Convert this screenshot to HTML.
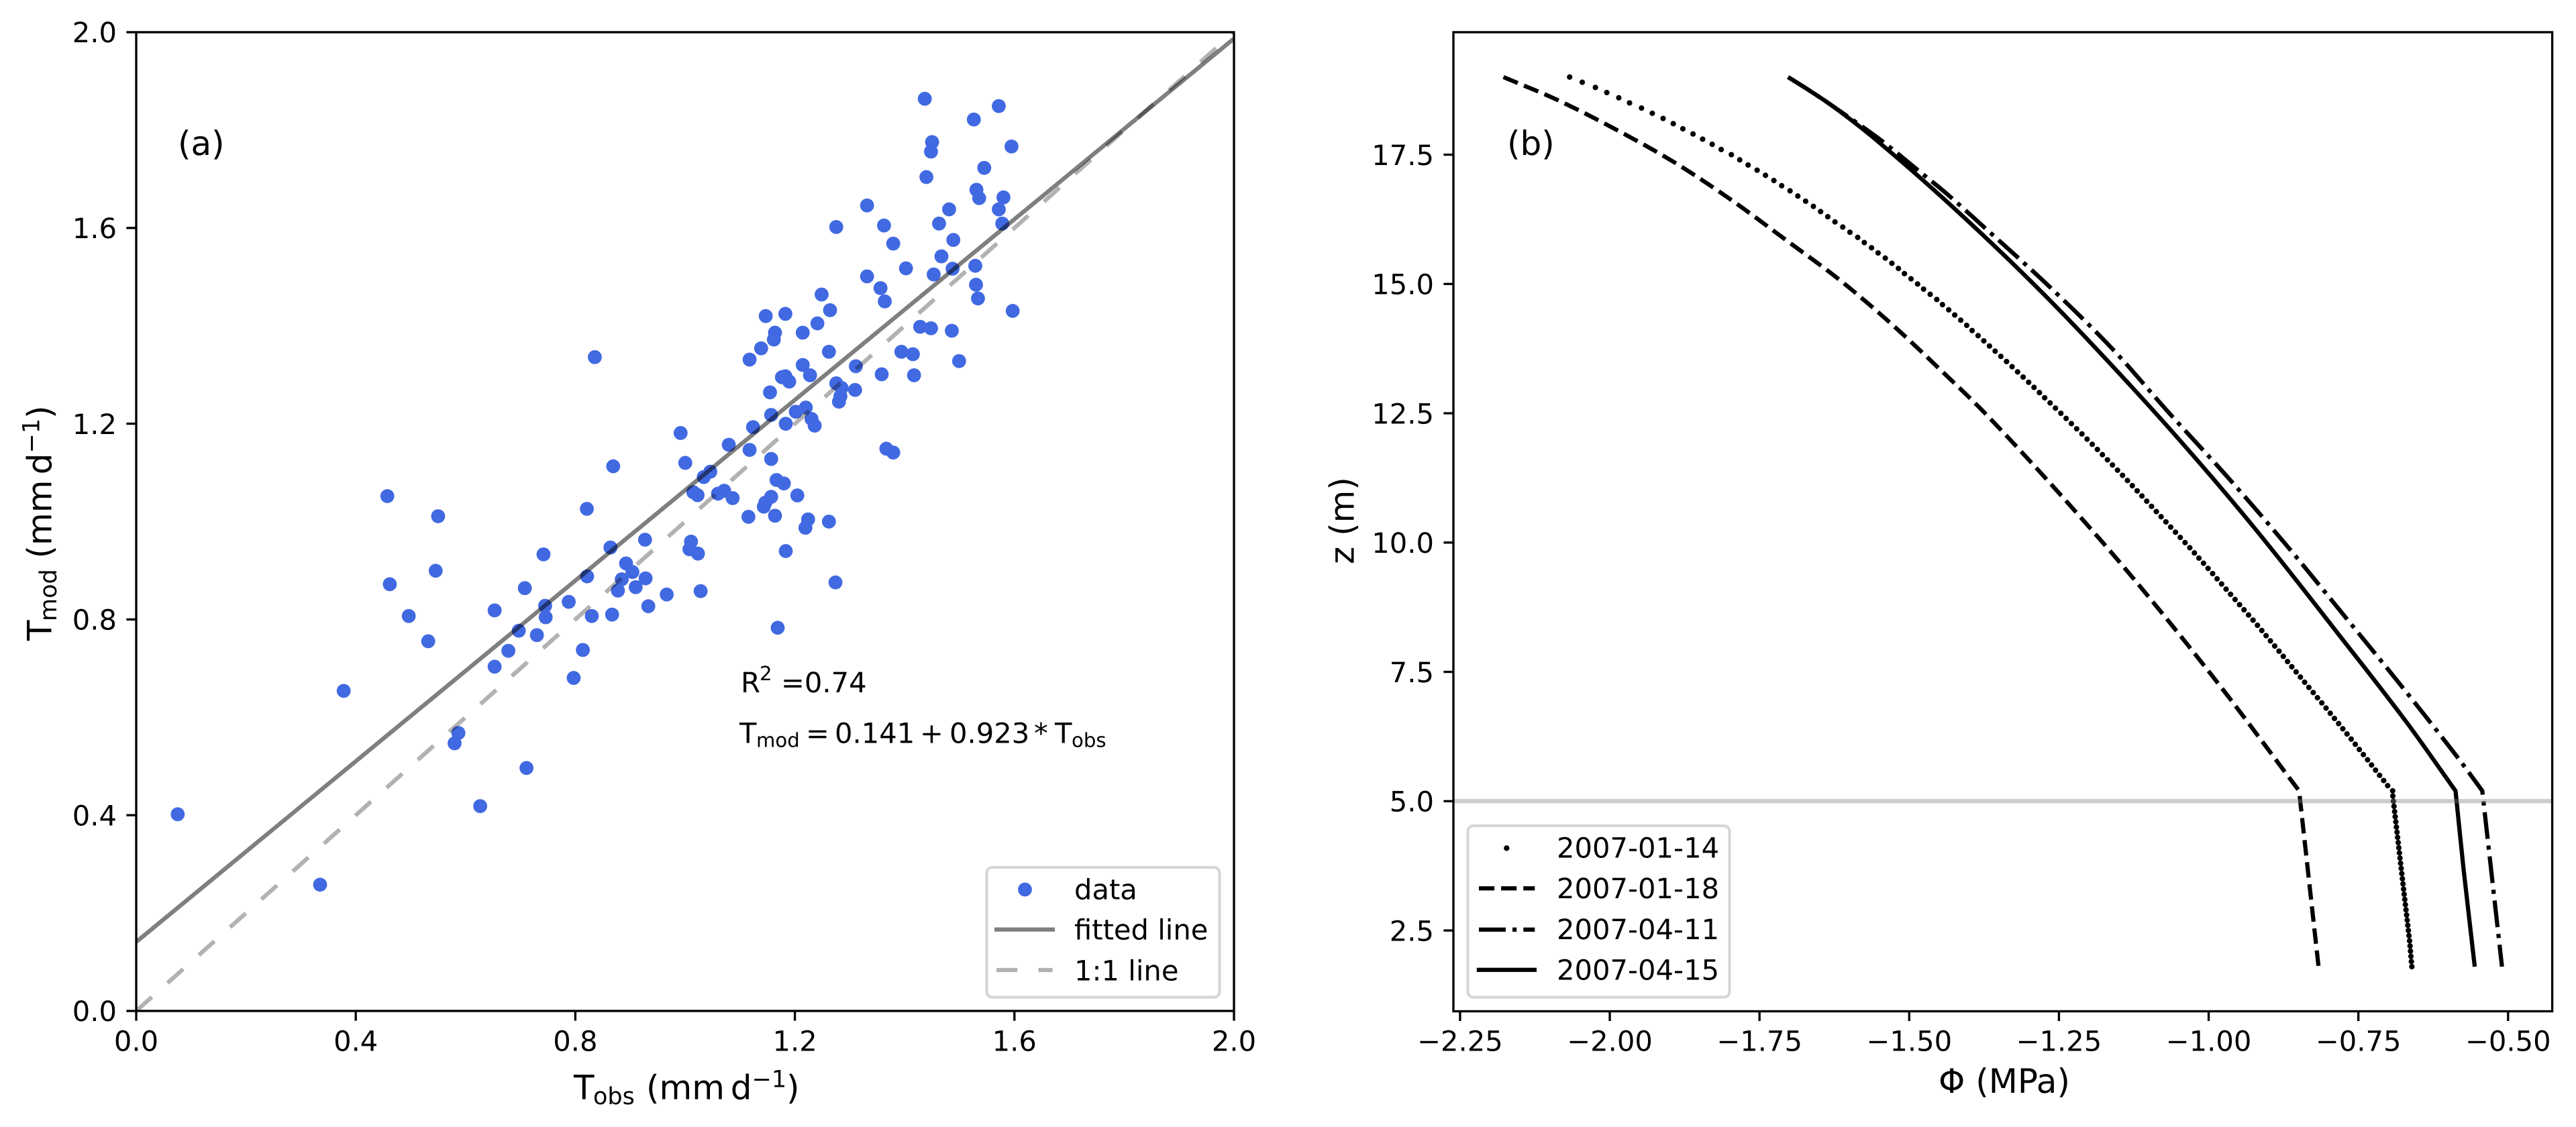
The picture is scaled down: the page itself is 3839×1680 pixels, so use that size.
<!DOCTYPE html>
<html>
<head>
<meta charset="utf-8">
<title>Panels (a) and (b)</title>
<style>
html,body{margin:0;padding:0;background:#fff}
svg{display:block}
text{font-family:"DejaVu Sans","Liberation Sans",sans-serif;fill:#000;text-rendering:geometricPrecision}
.t10{font-size:41.67px}
.t12{font-size:50px}
.s10{font-size:29.17px}
.s12{font-size:35px}
</style>
</head>
<body>
<svg id="figure" xmlns="http://www.w3.org/2000/svg" width="3839" height="1680" viewBox="0 0 3839 1680">
<defs>
<clipPath id="clip-a"><rect x="203" y="48" width="1636" height="1459"/></clipPath>
<clipPath id="clip-b"><rect x="2166" y="48" width="1637.6" height="1459.5"/></clipPath>
</defs>
<rect x="0" y="0" width="3839" height="1680" fill="#fff"/>

<g id="panel-a">
  <g id="a-marks" clip-path="url(#clip-a)"></g>
  <g id="a-ticks"></g>
  <rect x="203" y="48" width="1636" height="1459" fill="none" stroke="#000" stroke-width="3.33"/>
  <text class="t12" x="265" y="231">(a)</text>
  <text class="t10" x="1104" y="1032">R<tspan class="s10" x="1132" y="1014">2</tspan><tspan x="1164" y="1032">=0.74</tspan></text>
  <text class="t10" x="1102" y="1107.5">T<tspan class="s10" x="1127" y="1113.5">mod</tspan><tspan x="1201" y="1107.5">=</tspan><tspan x="1244" y="1107.5">0.141</tspan><tspan x="1371" y="1107.5">+</tspan><tspan x="1415" y="1107.5">0.923</tspan><tspan x="1541" y="1107.5">*</tspan><tspan x="1572" y="1107.5">T</tspan><tspan class="s10" x="1597" y="1113.5">obs</tspan></text>
  <text class="t12" x="855" y="1638.7">T<tspan class="s12" x="884" y="1646">obs</tspan><tspan x="963" y="1638.7">(mm</tspan><tspan x="1088.7" y="1638.7">d</tspan><tspan class="s12" x="1120.5" y="1620.5">−1</tspan><tspan x="1172" y="1638.7">)</tspan></text>
  <g transform="translate(76.5,955) rotate(-90)">
    <text class="t12" x="0" y="0">T<tspan class="s12" x="29" y="7.5">mod</tspan><tspan x="122.5" y="0">(mm</tspan><tspan x="247.7" y="0">d</tspan><tspan class="s12" x="279.5" y="-18">−1</tspan><tspan x="331" y="0">)</tspan></text>
  </g>
  <g>
    <rect x="1470.5" y="1293" width="347" height="193.5" rx="8.3" ry="8.3" fill="#fff" fill-opacity="0.8" stroke="#d6d6d6" stroke-width="4.17"/>
    <circle id="legend-a-marker" cx="1527.5" cy="1326" r="10.4" fill="#4169e1"/>
    <text class="t10" x="1601" y="1340.6">data</text>
    <line x1="1482" y1="1385.6" x2="1572" y2="1385.6" stroke="#000" stroke-opacity="0.5" stroke-width="6.25"/>
    <text class="t10" x="1601" y="1400.7">fitted line</text>
    <line x1="1485" y1="1446" x2="1568.5" y2="1446" stroke="#000" stroke-opacity="0.3" stroke-width="6.25" stroke-dasharray="31.25 31.25"/>
    <text class="t10" x="1601" y="1461.4">1:1 line</text>
  </g>
</g>

<g id="panel-b">
  <g id="b-marks" clip-path="url(#clip-b)"></g>
  <g id="b-ticks"></g>
  <rect x="2166" y="48" width="1637.6" height="1459.5" fill="none" stroke="#000" stroke-width="3.33"/>
  <text class="t12" x="2246" y="231">(b)</text>
  <text class="t12" x="2889" y="1629">Φ (MPa)</text>
  <text class="t12" transform="translate(2017.3,841) rotate(-90)" x="0" y="0">z (m)</text>
  <g>
    <rect x="2187.5" y="1231" width="390" height="255.5" rx="8.3" ry="8.3" fill="#fff" fill-opacity="0.8" stroke="#d6d6d6" stroke-width="4.17"/>
    <circle cx="2245.3" cy="1264.3" r="4.2" fill="#000"/>
    <text class="t10" x="2320" y="1278.6">2007-01-14</text>
    <line x1="2204" y1="1324.3" x2="2287.3" y2="1324.3" stroke="#000" stroke-width="6.25" stroke-dasharray="23.1 10"/>
    <text class="t10" x="2320" y="1339">2007-01-18</text>
    <line x1="2204" y1="1385.7" x2="2287.3" y2="1385.7" stroke="#000" stroke-width="6.25" stroke-dasharray="40 10 6.25 10"/>
    <text class="t10" x="2320" y="1400">2007-04-11</text>
    <line x1="2200.8" y1="1445.7" x2="2290" y2="1445.7" stroke="#000" stroke-width="6.25"/>
    <text class="t10" x="2320" y="1460.4">2007-04-15</text>
  </g>
</g>
</svg>

<script>
// ---------- Panel (a) data ----------
const aTickValues = [0.0, 0.4, 0.8, 1.2, 1.6, 2.0];
const aTickLabels = ["0.0", "0.4", "0.8", "1.2", "1.6", "2.0"];
const obsValues = [
0.8355,0.869,0.4575,0.550,0.821,0.742,0.864,0.927,0.8925,0.904,
0.5456,0.462,0.4965,0.532,0.653,0.708,0.8215,0.788,0.745,0.746,
0.697,0.730,0.830,0.867,0.8776,0.8846,0.910,0.928,0.933,0.9665,
0.678,0.8137,0.653,0.797,0.378,0.587,0.580,0.711,0.6267,0.0756,
0.335,1.0283,1.274,1.1687,
1.4367,1.5715,1.526,1.450,1.448,1.5947,1.545,1.4396,1.5308,1.5357,
1.58,1.5715,1.481,1.3315,1.4627,1.3624,1.2754,1.5778,1.3792,1.4887,
1.467,1.4024,1.4873,1.5287,1.4529,1.3315,1.356,1.530,1.5336,1.3638,
1.5968,1.2487,1.2641,1.1827,1.1469,1.241,1.1638,1.2143,1.1617,1.4283,
1.448,1.4859,1.1385,1.1175,1.262,1.394,1.415,1.4992,1.3111,1.2143,
1.2276,1.3582,1.4171,1.1764,1.1827,1.1897,1.2754,1.2852,1.3097,1.283,
1.2803,1.1547,1.2199,1.2017,1.2304,1.2361,1.1568,1.1834,1.1238,0.9918,
1.0796,1.1175,1.1568,1.3666,1.3792,1.0003,1.0459,1.034,1.1666,1.1799,
1.2045,1.015,1.0227,1.0599,1.0711,1.0866,1.1568,1.1462,1.1434,1.1154,
1.1638,1.2241,1.262,1.2192,1.0108,1.008,1.0234,1.1834
];
const modValues = [
1.336,1.113,1.052,1.011,1.026,0.933,0.947,0.963,0.9145,0.897,
0.8995,0.872,0.807,0.7555,0.8185,0.864,0.888,0.836,0.828,0.8045,
0.777,0.768,0.807,0.810,0.859,0.882,0.866,0.884,0.827,0.851,
0.736,0.7377,0.7035,0.6805,0.654,0.568,0.547,0.4965,0.4186,0.402,
0.258,0.858,0.8757,0.783,
1.864,1.849,1.8216,1.7755,1.756,1.7665,1.7227,1.704,1.678,1.661,
1.6625,1.638,1.638,1.646,1.609,1.605,1.602,1.609,1.568,1.5755,
1.542,1.5175,1.5167,1.5227,1.505,1.501,1.477,1.484,1.456,1.45,
1.4305,1.464,1.432,1.4245,1.42,1.405,1.386,1.386,1.372,1.398,
1.395,1.39,1.354,1.331,1.347,1.347,1.342,1.328,1.3175,1.32,
1.299,1.301,1.299,1.295,1.297,1.286,1.2825,1.273,1.269,1.256,
1.245,1.264,1.233,1.2245,1.2097,1.196,1.218,1.2,1.193,1.181,
1.157,1.1465,1.128,1.149,1.141,1.12,1.102,1.091,1.085,1.078,
1.0535,1.06,1.054,1.057,1.063,1.048,1.0505,1.0387,1.0305,1.0097,
1.012,1.0045,1.0,0.9873,0.959,0.9435,0.9346,0.9398
];
const fitObs = [0, 2];
const fitMod = [0.141, 1.987];
const oneToOneObs = [0, 2];
const oneToOneMod = [0, 2];

// ---------- Panel (b) data ----------
const bXTickValues = [-2.25, -2.00, -1.75, -1.50, -1.25, -1.00, -0.75, -0.50];
const bXTickLabels = ["−2.25", "−2.00", "−1.75", "−1.50", "−1.25", "−1.00", "−0.75", "−0.50"];
const bYTickValues = [2.5, 5.0, 7.5, 10.0, 12.5, 15.0, 17.5];
const bYTickLabels = ["2.5", "5.0", "7.5", "10.0", "12.5", "15.0", "17.5"];
const referenceDepth = [5.0];
const breakDepth = [5.2];

const zJan14 = [
19.0,18.9,18.8,18.7,18.6,18.5,18.4,18.3,18.2,18.1,
18.0,17.9,17.8,17.7,17.6,17.5,17.4,17.3,17.2,17.1,
17.0,16.9,16.8,16.7,16.6,16.5,16.4,16.3,16.2,16.1,
16.0,15.9,15.8,15.7,15.6,15.5,15.4,15.3,15.2,15.1,
15.0,14.9,14.8,14.7,14.6,14.5,14.4,14.3,14.2,14.1,
14.0,13.9,13.8,13.7,13.6,13.5,13.4,13.3,13.2,13.1,
13.0,12.9,12.8,12.7,12.6,12.5,12.4,12.3,12.2,12.1,
12.0,11.9,11.8,11.7,11.6,11.5,11.4,11.3,11.2,11.1,
11.0,10.9,10.8,10.7,10.6,10.5,10.4,10.3,10.2,10.1,
10.0,9.9,9.8,9.7,9.6,9.5,9.4,9.3,9.2,9.1,
9.0,8.9,8.8,8.7,8.6,8.5,8.4,8.3,8.2,8.1,
8.0,7.9,7.8,7.7,7.6,7.5,7.4,7.3,7.2,7.1,
7.0,6.9,6.8,6.7,6.6,6.5,6.4,6.3,6.2,6.1,
6.0,5.9,5.8,5.7,5.6,5.5,5.4,5.3,5.2,5.1,
5.0,4.9,4.8,4.7,4.6,4.5,4.4,4.3,4.2,4.1,
4.0,3.9,3.8,3.7,3.6,3.5,3.4,3.3,3.2,3.1,
3.0,2.9,2.8,2.7,2.6,2.5,2.4,2.3,2.2,2.1,
2.0,1.9,1.8
];
const phiJan14 = [
-2.067,-2.046,-2.024,-2.005,-1.985,-1.967,-1.947,-1.929,-1.911,-1.894,
-1.878,-1.861,-1.845,-1.829,-1.814,-1.797,-1.783,-1.769,-1.754,-1.740,
-1.726,-1.713,-1.699,-1.686,-1.673,-1.660,-1.648,-1.636,-1.624,-1.611,
-1.599,-1.586,-1.575,-1.563,-1.552,-1.540,-1.529,-1.518,-1.508,-1.497,
-1.486,-1.476,-1.465,-1.454,-1.4445,-1.434,-1.424,-1.414,-1.404,-1.395,
-1.385,-1.3755,-1.3660,-1.3565,-1.3470,-1.3375,-1.3282,-1.3190,-1.3098,-1.3006,
-1.2916,-1.2826,-1.2738,-1.2648,-1.2558,-1.2468,-1.2380,-1.2292,-1.2204,-1.2116,
-1.2030,-1.1944,-1.1858,-1.1774,-1.1690,-1.1606,-1.1522,-1.1438,-1.1356,-1.1275,
-1.1194,-1.1114,-1.1034,-1.0954,-1.0874,-1.0794,-1.0714,-1.0634,-1.0554,-1.0474,
-1.0394,-1.0315,-1.0238,-1.0162,-1.0086,-1.0010,-0.9934,-0.9859,-0.9784,-0.9709,
-0.9634,-0.9559,-0.9484,-0.9409,-0.9334,-0.9259,-0.9185,-0.9113,-0.9041,-0.8969,
-0.8897,-0.8825,-0.8754,-0.8683,-0.8612,-0.8540,-0.8468,-0.8397,-0.8326,-0.8254,
-0.8183,-0.8111,-0.8040,-0.7970,-0.7900,-0.7830,-0.7760,-0.7690,-0.7620,-0.7552,
-0.7484,-0.7416,-0.7347,-0.7280,-0.7213,-0.7146,-0.7078,-0.7011,-0.6928,-0.6925,
-0.6915,-0.6905,-0.6895,-0.6885,-0.6875,-0.6865,-0.6855,-0.6845,-0.6835,-0.6825,
-0.6815,-0.6805,-0.6795,-0.6785,-0.6775,-0.6765,-0.6755,-0.6745,-0.6735,-0.6725,
-0.6715,-0.6705,-0.6695,-0.6685,-0.6675,-0.6665,-0.6655,-0.6645,-0.6637,-0.6630,
-0.6622,-0.6615,-0.6607
];
const zJan18 = [19,18.55,17.96,17.33,16.61,15.85,15.08,14.25,13.37,12.46,10.89,9.257,7.26,5.2,1.8];
const phiJan18 = [-2.1776,-2.0860,-1.9855,-1.8891,-1.7954,-1.7058,-1.6164,-1.5319,-1.4506,-1.3700,-1.2447,-1.1221,-0.9830,-0.8490,-0.8165];
const zApr11 = [19,18.74,18.42,17.81,17.26,16.72,16.15,14.99,13.78,12.5,11.23,9.92,8.59,7.26,5.9,5.2,1.8];
const phiApr11 = [-1.7024,-1.6665,-1.6255,-1.5507,-1.4918,-1.4349,-1.3799,-1.2697,-1.1636,-1.0656,-0.9656,-0.868,-0.7739,-0.6804,-0.5878,-0.5431,-0.5102];
const zApr15 = [19,18.74,18.42,17.78,16.65,15.28,14.0,12.1,10.24,8.04,6.54,5.2,3.7,1.8];
const phiApr15 = [-1.7024,-1.6665,-1.6255,-1.5547,-1.4427,-1.3169,-1.2082,-1.0575,-0.9205,-0.7705,-0.6704,-0.5878,-0.5745,-0.5557];

// ---------- Axis functions ----------
const xA = v => 203 + v * 818;
const yA = v => 1507 - v * 729.5;
const xB = v => 3737.8 + (v + 0.5) * 892.5;
const yB = v => 1194.3 - (v - 5) * 77.1;

const NS = 'http://www.w3.org/2000/svg';
function mk(parent, tag, props, text) {
  const el = document.createElementNS(NS, tag);
  for (const k in props) el.setAttribute(k, props[k]);
  if (text !== undefined) el.textContent = text;
  parent.appendChild(el);
  return el;
}
function pts(xs, ys, fx, fy) {
  return xs.map((x, i) => fx(x).toFixed(2) + ',' + fy(ys[i]).toFixed(2)).join(' ');
}
// Smooth curve through the upper profile points, straight segments below the break depth.
function profilePath(phis, zs) {
  const p = phis.map((v, i) => [xB(v), yB(zs[i])]);
  let k = zs.findIndex(z => z <= breakDepth[0]);
  if (k < 1) k = p.length - 1;
  const dist = (a, b) => Math.hypot(a[0] - b[0], a[1] - b[1]);
  const tan = p.map((q, i) => {
    if (i === 0 || i >= k) return null;
    const d = dist(p[i - 1], q) + dist(q, p[i + 1]);
    return [(p[i + 1][0] - p[i - 1][0]) / d, (p[i + 1][1] - p[i - 1][1]) / d];
  });
  let d = 'M' + p[0][0].toFixed(2) + ' ' + p[0][1].toFixed(2);
  for (let i = 0; i < k; i++) {
    const s = dist(p[i], p[i + 1]) / 3;
    const a = p[i], b = p[i + 1];
    const ta = tan[i] || [(b[0] - a[0]) / (3 * s), (b[1] - a[1]) / (3 * s)];
    const tb = tan[i + 1] || [(b[0] - a[0]) / (3 * s), (b[1] - a[1]) / (3 * s)];
    d += ' C' + (a[0] + ta[0] * s).toFixed(2) + ' ' + (a[1] + ta[1] * s).toFixed(2) + ' ' +
      (b[0] - tb[0] * s).toFixed(2) + ' ' + (b[1] - tb[1] * s).toFixed(2) + ' ' +
      b[0].toFixed(2) + ' ' + b[1].toFixed(2);
  }
  for (let i = k + 1; i < p.length; i++) {
    d += ' L' + p[i][0].toFixed(2) + ' ' + p[i][1].toFixed(2);
  }
  return d;
}

const aMarks = document.getElementById('a-marks');
const aTicks = document.getElementById('a-ticks');
const bMarks = document.getElementById('b-marks');
const bTicks = document.getElementById('b-ticks');

// ---------- Panel (a) marks ----------
obsValues.forEach((o, i) => {
  const dot = mk(aMarks, 'circle', {cx: xA(o).toFixed(2), cy: yA(modValues[i]).toFixed(2), r: 10.4, fill: '#4169e1'});
  
  
});
const fittedLine = mk(aMarks, 'polyline', {points: pts(fitObs, fitMod, xA, yA), fill: 'none', stroke: '#000', 'stroke-opacity': 0.5, 'stroke-width': 6.25});


const oneToOneLine = mk(aMarks, 'polyline', {points: pts(oneToOneObs, oneToOneMod, xA, yA), fill: 'none', stroke: '#000', 'stroke-opacity': 0.3, 'stroke-width': 6.25, 'stroke-dasharray': '31.25 31.25'});



// ---------- Panel (a) ticks ----------
aTickValues.forEach((v, i) => {
  const px = xA(v);
  const xt = mk(aTicks, 'line', {x1: px, x2: px, y1: 1507, y2: 1521.6, stroke: '#000', 'stroke-width': 3.33});
  
  
  const xl = mk(aTicks, 'text', {x: px, y: 1566.5, 'text-anchor': 'middle', class: 't10'}, aTickLabels[i]);
  
  
  const py = yA(v);
  const yt = mk(aTicks, 'line', {x1: 188.4, x2: 203, y1: py, y2: py, stroke: '#000', 'stroke-width': 3.33});
  
  
  const yl = mk(aTicks, 'text', {x: 174, y: py + 15.2, 'text-anchor': 'end', class: 't10'}, aTickLabels[i]);
  
  
});

// ---------- Panel (b) marks ----------
phiJan14.forEach((p, i) => {
  const dot = mk(bMarks, 'circle', {cx: xB(p).toFixed(2), cy: yB(zJan14[i]).toFixed(2), r: 4.1, fill: '#000'});
  
  
});
const lineJan18 = mk(bMarks, 'path', {d: profilePath(phiJan18, zJan18), fill: 'none', stroke: '#000', 'stroke-width': 6.25, 'stroke-dasharray': '23.1 10', 'stroke-linejoin': 'round'});


const lineApr11 = mk(bMarks, 'path', {d: profilePath(phiApr11, zApr11), fill: 'none', stroke: '#000', 'stroke-width': 6.25, 'stroke-dasharray': '40 10 6.25 10', 'stroke-linejoin': 'round'});


const lineApr15 = mk(bMarks, 'path', {d: profilePath(phiApr15, zApr15), fill: 'none', stroke: '#000', 'stroke-width': 6.25, 'stroke-linejoin': 'round'});


const refLine = mk(bMarks, 'line', {x1: 2166, x2: 3803.6, y1: yB(referenceDepth[0]), y2: yB(referenceDepth[0]), stroke: '#808080', 'stroke-opacity': 0.4, 'stroke-width': 6.25});



// ---------- Panel (b) ticks ----------
bXTickValues.forEach((v, i) => {
  const px = xB(v);
  const xt = mk(bTicks, 'line', {x1: px, x2: px, y1: 1507.5, y2: 1522, stroke: '#000', 'stroke-width': 3.33});
  
  
  const xl = mk(bTicks, 'text', {x: px, y: 1566.5, 'text-anchor': 'middle', class: 't10'}, bXTickLabels[i]);
  
  
});
bYTickValues.forEach((v, i) => {
  const py = yB(v);
  const yt = mk(bTicks, 'line', {x1: 2151.4, x2: 2166, y1: py, y2: py, stroke: '#000', 'stroke-width': 3.33});
  
  
  const yl = mk(bTicks, 'text', {x: 2137, y: py + 15.2, 'text-anchor': 'end', class: 't10'}, bYTickLabels[i]);
  
  
});
</script>
</body>
</html>
